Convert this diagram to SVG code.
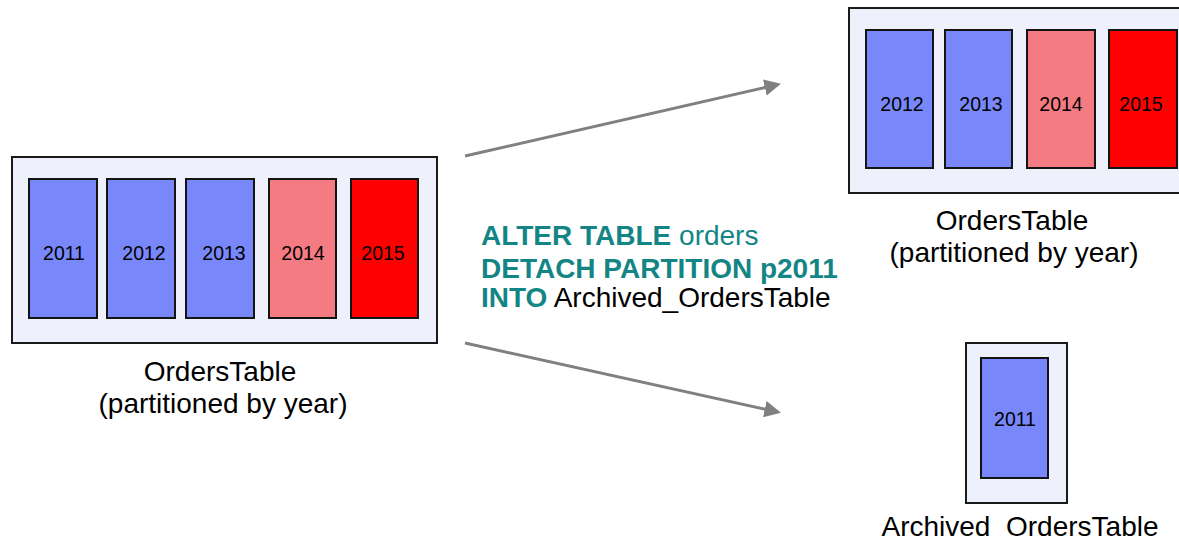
<svg xmlns="http://www.w3.org/2000/svg" width="1179" height="540" viewBox="0 0 1179 540">
  <style>
    .table { fill: #eef0fc; stroke: #1a1a1a; stroke-width: 2; }
    .part { stroke: #141414; stroke-width: 2; }
    .old { fill: #7888fb; }
    .warm { fill: #f57b83; }
    .hot { fill: #ff0000; }
    .yr { font-family: "Liberation Sans", Arial, sans-serif; font-size: 19.5px; fill: #000; text-anchor: middle; dominant-baseline: central; }
    .lbl { font-family: "Liberation Sans", Arial, sans-serif; font-size: 28px; fill: #000; text-anchor: middle; }
    .sql { font-family: "Liberation Sans", Arial, sans-serif; font-size: 28px; fill: #138585; }
    .kw { font-weight: bold; }
    .conn { stroke: #808080; stroke-width: 3; fill: none; marker-end: url(#arrow); }
  </style>
  <defs>
    <marker id="arrow" markerWidth="5.5" markerHeight="5.5" refX="4.5" refY="2.75" orient="auto" markerUnits="strokeWidth">
      <path d="M0,0 L5.5,2.75 L0,5.5 Z" fill="#808080"/>
    </marker>
  </defs>
  <rect width="1179" height="540" fill="#ffffff"/>

  <!-- source table, five yearly partitions -->
  <g id="orders-source">
    <rect class="table" x="12" y="157" width="425" height="186"/>
    <rect class="part old" x="29" y="179" width="68" height="139"/>
    <rect class="part old" x="107" y="179" width="68" height="139"/>
    <rect class="part old" x="186" y="179" width="68" height="139"/>
    <rect class="part warm" x="269" y="179" width="67" height="139"/>
    <rect class="part hot" x="351" y="179" width="67" height="139"/>
    <text class="yr" x="64" y="253">2011</text>
    <text class="yr" x="144" y="253">2012</text>
    <text class="yr" x="224" y="253">2013</text>
    <text class="yr" x="303" y="253">2014</text>
    <text class="yr" x="383" y="253">2015</text>
    <text class="lbl" x="220" y="381">OrdersTable</text>
    <text class="lbl" x="223" y="413">(partitioned by year)</text>
  </g>

  <!-- detach statement -->
  <g id="statement">
    <text class="sql" x="481" y="245"><tspan class="kw">ALTER TABLE</tspan> orders</text>
    <text class="sql" x="481" y="278"><tspan class="kw">DETACH PARTITION p2011</tspan></text>
    <text class="sql" x="481" y="307"><tspan class="kw">INTO</tspan> <tspan fill="#000">Archived_OrdersTable</tspan></text>
  </g>

  <!-- remaining table after detach -->
  <g id="orders-remaining">
    <rect class="table" x="849" y="8" width="340" height="185"/>
    <rect class="part old" x="866" y="30" width="67" height="138"/>
    <rect class="part old" x="945" y="30" width="67" height="138"/>
    <rect class="part warm" x="1027" y="30" width="68" height="138"/>
    <rect class="part hot" x="1109" y="30" width="68" height="138"/>
    <text class="yr" x="902" y="104">2012</text>
    <text class="yr" x="981" y="104">2013</text>
    <text class="yr" x="1061" y="104">2014</text>
    <text class="yr" x="1141" y="104">2015</text>
    <text class="lbl" x="1012" y="230">OrdersTable</text>
    <text class="lbl" x="1014" y="262">(partitioned by year)</text>
  </g>

  <!-- archived standalone table -->
  <g id="orders-archived">
    <rect class="table" x="966" y="343" width="101" height="160"/>
    <rect class="part old" x="981" y="358" width="67" height="120"/>
    <text class="yr" x="1015" y="419">2011</text>
    <text class="lbl" x="1020" y="536" xml:space="preserve">Archived  OrdersTable</text>
  </g>

  <g id="connectors">
    <line class="conn" x1="465" y1="156" x2="778" y2="84.5"/>
    <line class="conn" x1="465" y1="343" x2="778" y2="412"/>
  </g>
</svg>
